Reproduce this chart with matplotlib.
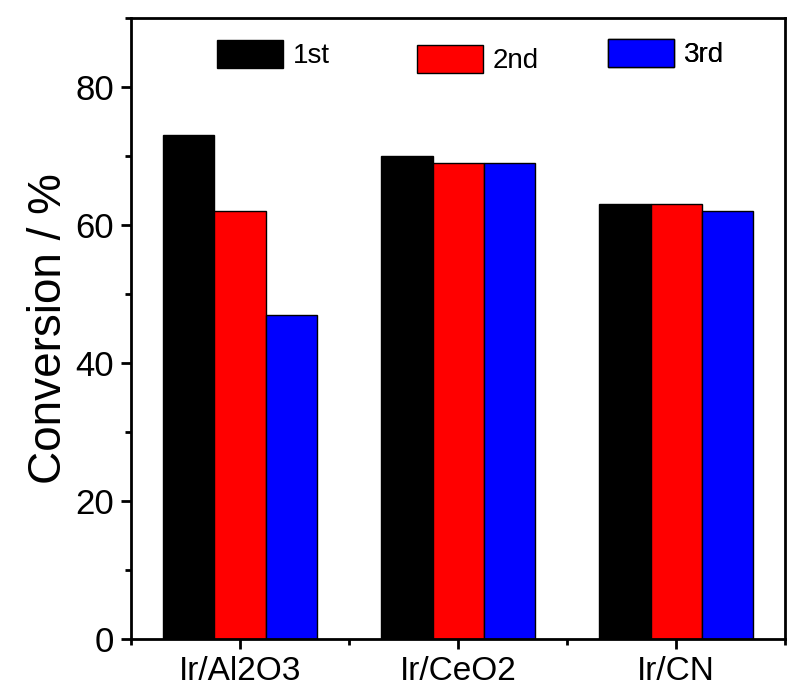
import matplotlib.pyplot as plt
import numpy as np
from matplotlib.patches import Patch
from matplotlib.ticker import FixedLocator, MultipleLocator

plt.rcParams["font.family"] = ["Liberation Sans", "DejaVu Sans"]

categories = ["Ir/Al2O3", "Ir/CeO2", "Ir/CN"]
runs = ["1st", "2nd", "3rd"]
run_colors = ["#000000", "#ff0000", "#0000ff"]
conversion = {
    "1st": [73, 70, 63],
    "2nd": [62, 69, 63],
    "3rd": [47, 69, 62],
}

fig = plt.figure(figsize=(7.94, 6.95), dpi=100, facecolor="white")
ax = fig.add_axes([0.165, 0.0806, 0.824, 0.8934])

x = np.arange(len(categories))
width = 0.235
for i, run in enumerate(runs):
    ax.bar(x + (i - 1) * width, conversion[run], width, color=run_colors[i],
           edgecolor="black", linewidth=1.0, zorder=2)

ax.set_xlim(-0.5, 2.5)
ax.set_ylim(0, 90)
ax.set_xticks(x)
ax.set_xticklabels(categories, fontsize=24)
ax.xaxis.set_minor_locator(FixedLocator([-0.5, 0.5, 1.5, 2.5]))
ax.yaxis.set_major_locator(MultipleLocator(20))
ax.yaxis.set_minor_locator(MultipleLocator(10))
ax.tick_params(axis="y", labelsize=25)
ax.tick_params(which="major", direction="out", length=7, width=2, pad=5)
ax.tick_params(which="minor", direction="out", length=4, width=2)
ax.set_ylabel("Conversion / %", fontsize=33, labelpad=3)
for s in ax.spines.values():
    s.set_linewidth(2)

# one legend per run, spread across the top
legend_x = [0.1315, 0.437, 0.729]
legend_y = [0.965, 0.957, 0.967]
for i, run in enumerate(runs):
    h = Patch(facecolor=run_colors[i], edgecolor="black", linewidth=1.0)
    leg = ax.legend([h], [run], loc="upper left",
                    bbox_to_anchor=(legend_x[i], legend_y[i]), frameon=False,
                    fontsize=20, handlelength=2.37, handleheight=1.19,
                    handletextpad=0.35, borderpad=0, borderaxespad=0)
    ax.add_artist(leg)

fig.savefig("out.png", dpi=100, facecolor="white")
